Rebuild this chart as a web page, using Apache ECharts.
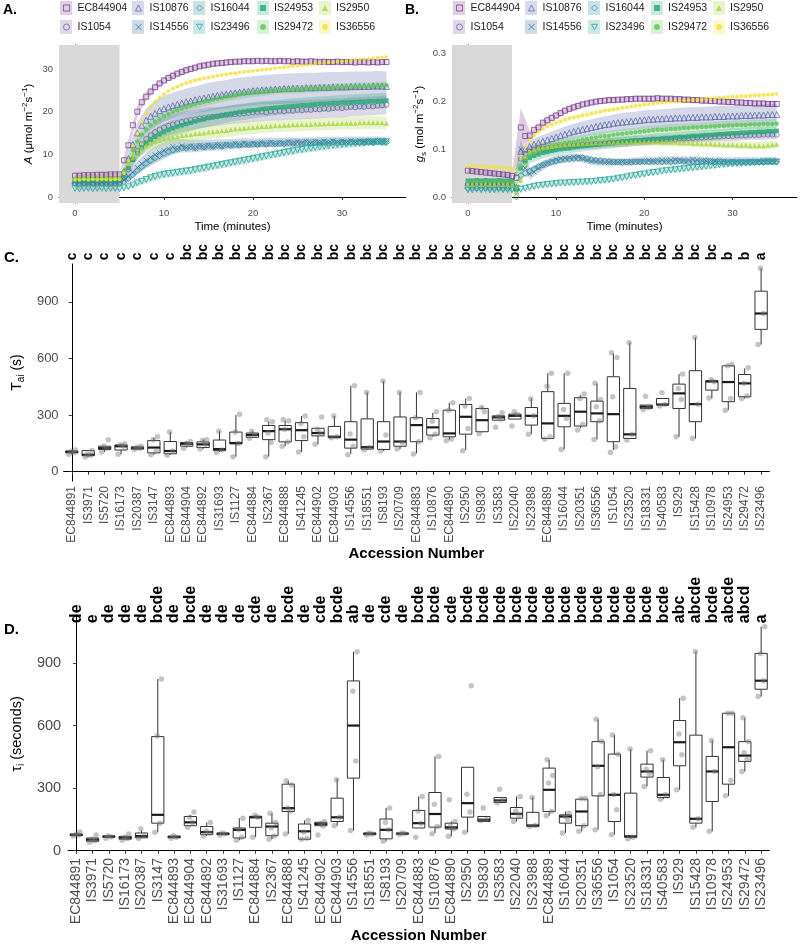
<!DOCTYPE html>
<html><head><meta charset="utf-8">
<script src="https://cdn.jsdelivr.net/npm/echarts@6/dist/echarts.min.js"></script>
<style>html,body{margin:0;padding:0;background:#fff}#c{width:800px;height:945px}</style>
</head><body><div id="c"></div>
<script>
// ===================== DATA =====================
const TS_NAMES = ['EC844904','IS1054','IS10876','IS14556','IS16044','IS23496','IS24953','IS29472','IS2950','IS36556'];
const TIME = [0,0.5,1,1.5,2,2.5,3,3.5,4,4.5,5,5.5,6,6.5,7,7.5,8,8.5,9,9.5,10,10.5,11,11.5,12,12.5,13,13.5,14,14.5,15,15.5,16,16.5,17,17.5,18,18.5,19,19.5,20,20.5,21,21.5,22,22.5,23,23.5,24,24.5,25,25.5,26,26.5,27,27.5,28,28.5,29,29.5,30,30.5,31,31.5,32,32.5,33,33.5,34,34.5,35];
const RIBBON_TIME = [0,1,2,3,4,5,6,7,8,9,10,11,12,13,14,15,16,17,18,19,20,21,22,23,24,25,26,27,28,29,30,31,32,33,34,35];

// Panel A: net assimilation (umol m-2 s-1)
const A_EC844904 = [5.0,5.0,5.1,5.1,5.1,5.2,5.2,5.2,5.3,5.3,5.3, 8.6,12.1,16.8,20.0,22.2,23.5,24.7,25.7,26.6,27.3, 27.9,28.4,28.9,29.3,29.7,30.0,30.3,30.6,30.8,31.0,31.2,31.3,31.4,31.5,31.6,31.7,31.7,31.8,31.8,31.8, 31.9,31.8,31.9,31.8,31.8,31.9,31.8,31.8,31.7,31.8,31.7,31.7,31.8,31.7,31.6,31.7,31.6,31.6,31.7,31.6,31.6,31.6,31.5,31.6,31.6,31.5,31.6,31.5,31.6,31.6];
const A_IS1054 = [3.3,3.2,3.3,3.4,3.3,3.4,3.3,3.4,3.4,3.3,3.4, 4.5,6.5,8.8,10.8,12.4,13.6,14.5,15.2,15.8,16.3, 16.7,17.0,17.3,17.6,17.8,18.0,18.2,18.4,18.5,18.7,18.8,18.9,19.1,19.2,19.3,19.4,19.5,19.6,19.7,19.8, 19.9,20.0,19.8,20.1,20.0,20.2,20.1,20.3,20.2,20.4,20.3,20.5,20.4,20.6,20.5,20.7,20.6,20.8,20.9,20.8,21.0,21.1,21.0,21.2,21.1,21.3,21.2,21.4,21.5,21.6];
const A_IS10876 = [4.0,4.0,4.1,4.0,4.1,4.1,4.0,4.1,4.1,4.0,4.1, 6.0,9.0,12.3,15.0,16.8,18.0,18.9,19.6,20.2,20.7, 21.1,21.4,21.7,22.0,22.3,22.5,22.8,23.0,23.2,23.4,23.6,23.8,24.0,24.1,24.3,24.4,24.6,24.7,24.8,24.9, 25.0,25.1,25.1,25.2,25.3,25.3,25.4,25.4,25.5,25.5,25.5,25.6,25.6,25.6,25.7,25.7,25.7,25.8,25.8,25.8,25.8,25.9,25.9,25.9,25.9,25.9,26.0,26.0,26.0,25.9];
const A_IS14556 = [3.6,3.5,3.6,3.5,3.6,3.5,3.6,3.5,3.6,3.5,3.6, 4.0,4.8,5.8,6.9,7.8,8.6,9.3,9.9,10.4,10.9, 11.3,11.8,11.2,12.0,11.5,11.9,11.4,12.0,11.6,12.1,11.7,12.2,11.8,12.3,12.0,12.5,12.1,12.6,12.2,12.6, 12.3,12.7,12.3,12.8,12.4,12.8,12.5,12.9,12.5,12.9,12.6,13.0,12.6,13.0,12.7,13.1,12.7,13.1,12.8,13.1,12.8,13.2,12.8,13.2,12.9,13.2,12.9,13.2,13.0,13.0];
const A_IS16044 = [3.1,3.0,3.1,3.0,3.1,3.0,3.1,3.1,3.0,3.1,3.1, 3.6,4.3,5.2,6.2,7.1,7.9,8.6,9.2,9.7,10.2, 10.6,11.0,11.3,11.6,11.4,11.8,11.5,11.9,11.7,12.0,11.8,12.1,11.9,12.2,12.0,12.3,12.1,12.4,12.2,12.4, 12.3,12.5,12.3,12.6,12.4,12.6,12.4,12.7,12.5,12.7,12.5,12.8,12.5,12.8,12.6,12.8,12.6,12.9,12.6,12.9,12.7,12.9,12.7,12.9,12.7,13.0,12.7,13.0,12.8,12.8];
const A_IS23496 = [2.0,1.9,2.0,2.0,1.9,2.0,2.0,1.9,2.0,2.0,1.9, 2.1,2.4,2.8,3.3,3.7,4.1,4.5,4.8,5.1,5.3, 5.5,5.6,5.8,5.9,6.1,6.2,6.4,6.6,6.8,7.0,7.2,7.4,7.6,7.8,8.0,8.2,8.4,8.6,8.8,9.0, 9.2,9.4,9.6,9.8,10.0,10.2,10.4,10.6,10.8,11.0,11.1,11.3,11.4,11.6,11.7,11.9,12.0,12.1,12.2,12.3,12.4,12.5,12.6,12.6,12.7,12.8,12.8,12.9,12.9,13.0];
const A_IS24953 = [3.8,3.8,3.8,3.9,3.8,3.9,3.8,3.9,3.9,3.8,3.9, 5.0,6.8,8.7,10.3,11.6,12.6,13.4,14.1,14.7,15.2, 15.7,16.1,16.5,16.8,17.1,17.4,17.7,18.0,18.2,18.5,18.7,18.9,19.1,19.3,19.5,19.7,19.9,20.0,20.2,20.3, 20.4,20.6,20.7,20.8,20.9,21.0,21.1,21.2,21.3,21.4,21.5,21.5,21.6,21.7,21.8,21.8,21.9,22.0,22.0,22.1,22.1,22.2,22.2,22.3,22.3,22.4,22.4,22.5,22.5,22.6];
const A_IS29472 = [4.2,4.2,4.3,4.2,4.3,4.2,4.3,4.3,4.2,4.3,4.3, 6.0,8.5,11.0,13.0,14.6,15.8,16.8,17.6,18.3,18.9, 19.4,19.9,20.3,20.7,21.0,21.4,21.7,22.0,22.3,22.5,22.8,23.0,23.2,23.4,23.6,23.8,24.0,24.1,24.3,24.4, 24.5,24.6,24.7,24.8,24.9,25.0,25.0,25.1,25.2,25.2,25.3,25.3,25.4,25.4,25.5,25.5,25.6,25.6,25.7,25.7,25.8,25.8,25.8,25.9,25.9,26.0,26.0,26.1,26.1,26.2];
const A_IS2950 = [4.5,4.5,4.6,4.5,4.6,4.5,4.6,4.6,4.5,4.6,4.6, 6.0,7.8,9.3,10.5,11.4,12.1,12.6,13.0,13.3,13.6, 13.8,14.0,14.2,14.4,14.5,14.6,14.8,14.9,15.0,15.2,15.3,15.4,15.5,15.6,15.8,15.9,16.0,16.1,16.2,16.3, 16.4,16.5,16.5,16.6,16.7,16.7,16.8,16.8,16.9,16.9,17.0,17.0,17.0,17.1,17.1,17.1,17.2,17.2,17.2,17.3,17.3,17.3,17.3,17.4,17.4,17.4,17.4,17.4,17.4,17.3];
const A_IS36556 = [4.0,4.0,4.1,4.0,4.1,4.0,4.1,4.1,4.0,4.1,4.1, 5.5,8.5,12.0,15.0,17.5,19.5,21.0,22.3,23.3,24.1, 24.8,25.4,25.9,26.3,26.7,27.0,27.3,27.6,27.8,28.0,28.2,28.4,28.6,28.7,28.9,29.0,29.2,29.3,29.4,29.5, 29.7,29.8,29.9,30.0,30.2,30.3,30.4,30.5,30.7,30.8,30.9,31.0,31.1,31.2,31.3,31.4,31.5,31.6,31.7,31.8,31.9,32.0,32.1,32.2,32.3,32.4,32.5,32.6,32.7,32.8];

// Panel A standard error (one value per minute)
const SE_A_EC844904 = [0.3,0.3,0.3,0.3,0.3,0.3, 1.2,1.3,1.0,0.9,0.8,0.8, 0.8,0.7,0.7,0.7,0.7,0.7, 0.6,0.6,0.6,0.6,0.6,0.6, 0.6,0.6,0.6,0.6,0.6,0.6, 0.6,0.6,0.6,0.6,0.6,0.6];
const SE_A_IS1054 = [0.5,0.5,0.5,0.5,0.5,0.5, 1.5,2.0,2.2,2.3,2.3,2.3, 2.3,2.3,2.3,2.3,2.2,2.2, 2.2,2.2,2.2,2.2,2.2,2.2, 2.2,2.2,2.2,2.2,2.2,2.2, 2.2,2.2,2.2,2.2,2.2,2.2];
const SE_A_IS10876 = [0.6,0.6,0.6,0.6,0.6,0.6, 2.0,2.5,2.8,3.0,3.0,3.1, 3.1,3.2,3.2,3.3,3.3,3.3, 3.4,3.4,3.4,3.4,3.5,3.5, 3.5,3.5,3.5,3.5,3.5,3.5, 3.5,3.5,3.5,3.5,3.5,3.5];
const SE_A_IS14556 = [0.5,0.5,0.5,0.5,0.5,0.5, 1.0,1.5,1.8,2.0,2.0,1.8, 1.6,1.5,1.4,1.3,1.3,1.2, 1.2,1.2,1.1,1.1,1.1,1.1, 1.1,1.0,1.0,1.0,1.0,1.0, 1.0,1.0,1.0,1.0,1.0,1.0];
const SE_A_IS16044 = [0.4,0.4,0.4,0.4,0.4,0.4, 0.8,1.0,1.0,1.0,0.9,0.9, 0.8,0.8,0.8,0.8,0.8,0.8, 0.8,0.8,0.8,0.8,0.8,0.8, 0.8,0.8,0.8,0.8,0.8,0.8, 0.8,0.8,0.8,0.8,0.8,0.8];
const SE_A_IS23496 = [0.3,0.3,0.3,0.3,0.3,0.3, 0.5,0.7,0.8,0.9,0.9,0.9, 0.9,0.9,0.9,0.9,0.9,0.9, 0.9,0.9,0.9,0.9,0.9,0.9, 0.9,0.9,0.9,0.9,0.9,0.9, 0.9,0.9,0.9,0.8,0.8,0.8];
const SE_A_IS24953 = [0.4,0.4,0.4,0.4,0.4,0.4, 1.0,1.5,1.8,2.0,2.0,2.0, 2.0,2.0,2.0,2.0,2.0,1.9, 1.9,1.9,1.9,1.9,1.8,1.8, 1.8,1.8,1.8,1.8,1.8,1.8, 1.8,1.8,1.8,1.8,1.8,1.8];
const SE_A_IS29472 = [0.4,0.4,0.4,0.4,0.4,0.4, 1.0,1.2,1.3,1.3,1.3,1.2, 1.2,1.1,1.1,1.0,1.0,1.0, 1.0,1.0,1.0,1.0,0.9,0.9, 0.9,0.9,0.9,0.9,0.9,0.9, 0.9,0.9,0.9,0.9,0.9,0.9];
const SE_A_IS2950 = [0.4,0.4,0.4,0.4,0.4,0.4, 1.0,1.5,1.6,1.7,1.7,1.7, 1.7,1.7,1.7,1.6,1.6,1.6, 1.6,1.6,1.6,1.5,1.5,1.5, 1.5,1.5,1.5,1.5,1.5,1.5, 1.5,1.5,1.5,1.5,1.5,1.5];
const SE_A_IS36556 = [0.3,0.3,0.3,0.3,0.3,0.3, 0.6,0.7,0.7,0.6,0.5,0.5, 0.5,0.5,0.5,0.4,0.4,0.4, 0.4,0.4,0.4,0.4,0.4,0.4, 0.4,0.4,0.4,0.4,0.4,0.4, 0.4,0.4,0.4,0.4,0.4,0.4];

// Panel B: stomatal conductance (mol m-2 s-1)
const B_EC844904 = [0.055,0.054,0.053,0.052,0.051,0.050,0.049,0.048,0.047,0.046,0.044, 0.040,0.145,0.127,0.128,0.140,0.145,0.155,0.160,0.165,0.170, 0.175,0.180,0.184,0.187,0.190,0.193,0.195,0.197,0.199,0.200,0.201,0.202,0.202,0.203,0.203,0.204,0.204,0.205,0.205,0.205, 0.205,0.205,0.206,0.205,0.205,0.205,0.204,0.204,0.203,0.203,0.202,0.202,0.201,0.201,0.200,0.200,0.199,0.199,0.198,0.198,0.197,0.197,0.196,0.196,0.195,0.195,0.195,0.194,0.194,0.194];
const B_IS1054 = [0.028,0.028,0.029,0.028,0.029,0.028,0.028,0.029,0.028,0.028,0.027, 0.018,0.080,0.090,0.095,0.098,0.100,0.101,0.102,0.103,0.104, 0.105,0.106,0.107,0.107,0.108,0.109,0.109,0.110,0.111,0.111,0.112,0.113,0.113,0.114,0.115,0.115,0.116,0.117,0.117,0.118, 0.118,0.119,0.119,0.120,0.120,0.121,0.121,0.122,0.122,0.123,0.123,0.124,0.124,0.125,0.125,0.126,0.126,0.127,0.127,0.127,0.128,0.128,0.128,0.129,0.129,0.129,0.130,0.130,0.130,0.130];
const B_IS10876 = [0.030,0.030,0.031,0.030,0.031,0.030,0.030,0.031,0.030,0.030,0.029, 0.020,0.095,0.100,0.105,0.110,0.113,0.116,0.119,0.122,0.125, 0.128,0.131,0.134,0.137,0.139,0.141,0.143,0.145,0.147,0.149,0.151,0.152,0.154,0.155,0.156,0.157,0.158,0.159,0.160,0.161, 0.162,0.162,0.163,0.163,0.164,0.164,0.165,0.165,0.165,0.166,0.166,0.166,0.167,0.167,0.167,0.168,0.168,0.168,0.169,0.169,0.169,0.170,0.170,0.170,0.171,0.171,0.171,0.172,0.172,0.172];
const B_IS14556 = [0.022,0.022,0.023,0.022,0.023,0.022,0.022,0.023,0.022,0.022,0.021, 0.012,0.100,0.060,0.048,0.052,0.060,0.066,0.071,0.075,0.078, 0.080,0.081,0.082,0.083,0.084,0.080,0.077,0.075,0.074,0.073,0.072,0.073,0.072,0.073,0.074,0.073,0.074,0.075,0.074,0.075, 0.076,0.075,0.076,0.077,0.076,0.077,0.078,0.077,0.076,0.077,0.078,0.077,0.076,0.075,0.076,0.075,0.076,0.075,0.074,0.075,0.074,0.075,0.074,0.075,0.074,0.075,0.075,0.076,0.075,0.076];
const B_IS16044 = [0.018,0.018,0.019,0.018,0.019,0.018,0.018,0.019,0.018,0.018,0.017, 0.000,0.045,0.050,0.054,0.058,0.063,0.067,0.070,0.073,0.075, 0.077,0.078,0.079,0.080,0.081,0.082,0.080,0.078,0.077,0.076,0.075,0.074,0.073,0.073,0.072,0.073,0.072,0.073,0.073,0.074, 0.073,0.074,0.074,0.073,0.074,0.073,0.074,0.075,0.074,0.073,0.074,0.073,0.074,0.075,0.074,0.073,0.074,0.073,0.072,0.073,0.072,0.073,0.072,0.073,0.072,0.073,0.072,0.073,0.073,0.073];
const B_IS23496 = [0.015,0.015,0.016,0.015,0.016,0.015,0.015,0.016,0.015,0.015,0.015, 0.018,0.016,0.018,0.020,0.022,0.024,0.025,0.026,0.027,0.028, 0.029,0.029,0.030,0.030,0.031,0.031,0.032,0.032,0.033,0.034,0.035,0.036,0.037,0.039,0.040,0.042,0.044,0.045,0.047,0.048, 0.050,0.051,0.052,0.054,0.055,0.056,0.057,0.058,0.059,0.060,0.061,0.062,0.063,0.064,0.065,0.066,0.067,0.068,0.069,0.069,0.070,0.070,0.071,0.071,0.072,0.072,0.073,0.073,0.073,0.073];
const B_IS24953 = [0.034,0.034,0.035,0.034,0.035,0.034,0.034,0.035,0.034,0.034,0.033, 0.015,0.060,0.075,0.082,0.086,0.089,0.092,0.094,0.096,0.098, 0.100,0.101,0.102,0.104,0.105,0.106,0.107,0.108,0.109,0.110,0.111,0.112,0.113,0.114,0.115,0.116,0.117,0.118,0.118,0.119, 0.120,0.121,0.121,0.122,0.123,0.123,0.124,0.125,0.125,0.126,0.127,0.127,0.128,0.129,0.129,0.130,0.131,0.131,0.132,0.133,0.133,0.134,0.134,0.135,0.135,0.136,0.136,0.137,0.137,0.138];
const B_IS29472 = [0.032,0.032,0.033,0.032,0.033,0.032,0.032,0.033,0.032,0.032,0.031, 0.020,0.065,0.080,0.088,0.093,0.097,0.100,0.103,0.106,0.108, 0.110,0.112,0.114,0.116,0.118,0.120,0.121,0.123,0.124,0.126,0.127,0.128,0.130,0.131,0.132,0.133,0.134,0.135,0.136,0.137, 0.138,0.139,0.140,0.140,0.141,0.142,0.142,0.143,0.144,0.144,0.145,0.145,0.146,0.146,0.147,0.147,0.148,0.148,0.149,0.149,0.150,0.150,0.150,0.151,0.151,0.151,0.152,0.152,0.152,0.153];
const B_IS2950 = [0.026,0.026,0.027,0.026,0.027,0.026,0.026,0.027,0.026,0.026,0.025, 0.010,0.035,0.085,0.095,0.099,0.102,0.104,0.105,0.106,0.107, 0.108,0.109,0.110,0.110,0.111,0.111,0.112,0.112,0.113,0.113,0.113,0.114,0.114,0.114,0.114,0.115,0.115,0.115,0.115,0.115, 0.115,0.115,0.115,0.114,0.114,0.114,0.114,0.113,0.113,0.113,0.112,0.112,0.111,0.111,0.111,0.110,0.110,0.109,0.109,0.109,0.108,0.108,0.108,0.107,0.107,0.107,0.107,0.108,0.109,0.110];
const B_IS36556 = [0.064,0.065,0.064,0.063,0.064,0.063,0.062,0.062,0.061,0.060,0.058, 0.055,0.085,0.105,0.118,0.128,0.136,0.142,0.147,0.151,0.155, 0.158,0.161,0.164,0.166,0.168,0.170,0.172,0.174,0.176,0.178,0.180,0.181,0.183,0.184,0.186,0.187,0.189,0.190,0.191,0.193, 0.194,0.195,0.196,0.197,0.198,0.199,0.200,0.200,0.201,0.202,0.203,0.203,0.204,0.205,0.205,0.206,0.207,0.207,0.208,0.209,0.209,0.210,0.210,0.211,0.212,0.212,0.213,0.213,0.214,0.215];

// Panel B standard error (one value per minute)
const SE_B_EC844904 = [0.004,0.004,0.004,0.004,0.004,0.005, 0.040,0.010,0.008,0.008,0.007,0.007, 0.007,0.006,0.006,0.006,0.006,0.006, 0.006,0.006,0.006,0.006,0.006,0.006, 0.006,0.006,0.006,0.006,0.006,0.006, 0.006,0.006,0.006,0.006,0.006,0.006];
const SE_B_IS1054 = [0.003,0.003,0.003,0.003,0.003,0.003, 0.012,0.012,0.011,0.011,0.010,0.010, 0.010,0.010,0.010,0.010,0.010,0.010, 0.010,0.010,0.010,0.010,0.010,0.010, 0.010,0.010,0.010,0.010,0.010,0.010, 0.010,0.010,0.010,0.010,0.010,0.010];
const SE_B_IS10876 = [0.003,0.003,0.003,0.003,0.003,0.003, 0.010,0.012,0.013,0.014,0.015,0.016, 0.016,0.017,0.017,0.018,0.018,0.019, 0.019,0.019,0.020,0.020,0.020,0.020, 0.021,0.021,0.021,0.021,0.022,0.022, 0.022,0.022,0.022,0.022,0.022,0.022];
const SE_B_IS14556 = [0.003,0.003,0.003,0.003,0.003,0.003, 0.020,0.012,0.010,0.009,0.009,0.008, 0.008,0.008,0.008,0.008,0.008,0.008, 0.008,0.008,0.008,0.008,0.008,0.008, 0.008,0.008,0.008,0.008,0.008,0.008, 0.008,0.008,0.008,0.008,0.008,0.008];
const SE_B_IS16044 = [0.003,0.003,0.003,0.003,0.003,0.003, 0.008,0.008,0.007,0.007,0.007,0.006, 0.006,0.006,0.006,0.006,0.006,0.006, 0.006,0.006,0.006,0.006,0.006,0.006, 0.006,0.006,0.006,0.006,0.006,0.006, 0.006,0.006,0.006,0.006,0.006,0.006];
const SE_B_IS23496 = [0.003,0.003,0.003,0.003,0.003,0.003, 0.004,0.004,0.005,0.005,0.005,0.005, 0.005,0.005,0.005,0.005,0.005,0.005, 0.005,0.005,0.005,0.005,0.005,0.005, 0.006,0.006,0.006,0.006,0.006,0.006, 0.006,0.006,0.006,0.006,0.006,0.006];
const SE_B_IS24953 = [0.003,0.003,0.003,0.003,0.003,0.003, 0.012,0.012,0.012,0.011,0.011,0.011, 0.011,0.011,0.011,0.011,0.011,0.011, 0.011,0.011,0.011,0.011,0.011,0.011, 0.011,0.011,0.011,0.011,0.011,0.011, 0.011,0.011,0.011,0.011,0.011,0.011];
const SE_B_IS29472 = [0.003,0.003,0.003,0.003,0.003,0.003, 0.010,0.010,0.010,0.010,0.010,0.010, 0.010,0.010,0.010,0.010,0.010,0.010, 0.010,0.010,0.010,0.010,0.010,0.010, 0.010,0.010,0.010,0.010,0.010,0.010, 0.010,0.010,0.010,0.010,0.010,0.010];
const SE_B_IS2950 = [0.003,0.003,0.003,0.003,0.003,0.003, 0.012,0.010,0.009,0.009,0.008,0.008, 0.008,0.008,0.008,0.008,0.008,0.008, 0.008,0.008,0.008,0.008,0.008,0.008, 0.008,0.008,0.008,0.008,0.008,0.008, 0.008,0.008,0.008,0.008,0.008,0.008];
const SE_B_IS36556 = [0.005,0.005,0.005,0.005,0.005,0.005, 0.006,0.006,0.006,0.006,0.006,0.006, 0.005,0.005,0.005,0.005,0.005,0.005, 0.005,0.005,0.005,0.005,0.005,0.005, 0.005,0.005,0.005,0.005,0.005,0.005, 0.005,0.005,0.005,0.005,0.005,0.005];

// Panels C & D: accessions
const ACCESSIONS = ['EC844891','IS3971','IS5720','IS16173','IS20387','IS3147','EC844893','EC844904','EC844892','IS31693','IS1127','EC844884','IS2367','EC844888','IS41245','EC844902','EC844903','IS14556','IS18551','IS8193','IS20709','EC844883','IS10876','EC844890','IS2950','IS9830','IS3583','IS22040','IS23988','EC844889','IS16044','IS20351','IS36556','IS1054','IS23520','IS18331','IS40583','IS929','IS15428','IS10978','IS24953','IS29472','IS23496'];
const Y_TICKS_CD = [0,300,600,900];

// Tai (s): [lower whisker, Q1, median, Q3, upper whisker]
const TAI_BOX = [[92,100,105,110,115],[78,85,90,112,112],[105,118,125,135,135],[92,115,135,142,148],[118,120,125,132,135],[90,100,128,165,180],[90,95,110,160,210],[128,135,148,155,160],[120,128,145,158,170],[105,112,120,168,215],[80,148,152,210,300],[178,182,195,205,215],[80,170,215,245,265],[135,158,225,245,270],[105,165,220,260,295],[145,190,205,230,232],[180,180,185,240,295],[95,125,170,265,455],[115,120,130,280,420],[110,118,160,265,480],[120,135,160,290,420],[97,159,247,286,420],[185,194,235,282,312],[168,185,203,326,365],[115,199,291,356,388],[208,212,273,335,344],[273,273,288,296,300],[279,279,296,305,310],[199,247,296,340,388],[176,176,256,424,521],[118,238,296,362,521],[230,242,318,392,405],[171,265,309,374,468],[115,159,305,503,626],[176,176,198,441,683],[335,335,344,353,353],[353,353,356,388,388],[185,335,415,464,517],[176,265,358,535,711],[388,432,478,482,489],[326,371,475,561,561],[388,397,468,515,547],[674,754,838,956,1077]];
const TAI_POINTS = [[92,100,108,115],[78,88,92,112],[105,125,135,170],[92,135,142,148],[118,125,130,135],[90,110,170,185],[88,110,210],[125,145,150,160],[120,145,165,170],[102,115,215],[80,150,210,305],[178,195,215],[80,155,205,265,275],[135,158,225,270,275],[105,185,255,295],[145,205,225,290],[180,185,295],[90,135,200,455],[115,130,420],[110,195,480],[120,155,420],[94,159,286,420],[180,198,268,318],[164,173,326,365],[111,229,348,388],[203,318,340],[235,279,291,312],[242,305,318],[198,296,385],[173,185,453,521],[118,282,330,521],[221,252,388,411],[171,270,344,383,468],[102,132,397,605,630],[168,199,683],[330,340,400],[348,356,418],[185,383,441,517],[176,358,711],[390,477,489],[326,388,561,568],[388,401,468,551],[674,838,1077]];
const TAI_LETTERS = ['c','c','c','c','c','c','c','bc','bc','bc','bc','bc','bc','bc','bc','bc','bc','bc','bc','bc','bc','bc','bc','bc','bc','bc','bc','bc','bc','bc','bc','bc','bc','bc','bc','bc','bc','bc','bc','bc','b','b','a'];

// tau_i (seconds)
const TAU_BOX = [[70,72,76,80,82],[40,45,53,61,62],[62,64,68,70,70],[50,55,62,69,72],[60,62,70,85,97],[88,132,172,547,823],[60,62,66,70,72],[116,120,136,164,170],[70,77,89,116,135],[75,77,81,85,85],[50,61,100,109,156],[65,112,160,165,170],[55,72,116,132,180],[80,188,204,319,335],[55,55,93,128,145],[116,120,128,136,140],[120,140,160,252,345],[97,348,600,814,954],[75,77,81,85,85],[45,57,100,152,205],[78,80,82,84,85],[109,109,132,193,260],[85,113,176,279,452],[69,104,112,132,140],[88,161,228,400,400],[140,140,148,164,164],[231,231,241,255,255],[140,156,177,207,260],[116,116,121,184,255],[168,188,292,396,436],[85,132,164,172,188],[93,120,188,247,250],[101,263,407,523,630],[77,140,268,463,555],[57,64,69,276,487],[308,353,380,415,479],[247,255,268,351,436],[292,407,520,624,731],[113,132,153,554,955],[93,236,380,452,528],[263,319,496,659,659],[380,428,456,523,638],[739,774,815,946,1074]];
const TAU_POINTS = [[70,75,78,90],[40,48,55,75],[60,66,70],[50,58,65,80],[58,70,105],[88,132,550,823],[60,65,72],[112,135,160,185],[70,85,95,135],[75,80,85],[50,65,100,155],[65,160,170],[55,70,110,135,180],[80,190,205,315,335],[55,60,90,145],[75,120,130,140],[120,160,340],[97,430,765,954],[75,80,85],[45,100,135,205],[78,82,85],[64,130,190,260],[81,116,223,452],[69,104,120,140,244],[88,185,271,791],[145,150,205],[230,245,295],[140,170,190,260],[116,121,255],[168,188,325,360,436],[85,150,165,180],[93,120,250,250],[101,270,403,525,630],[77,196,270,463,555],[57,65,487],[308,370,390,479],[247,268,436],[292,460,560,731],[113,153,955],[93,380,528],[263,338,659,659],[380,440,470,523,638],[739,815,946,1074]];
const TAU_LETTERS = ['de','e','de','de','de','bcde','de','bcde','de','de','de','cde','de','bcde','de','cde','bcde','ab','de','cde','de','bcde','bcde','cde','bcde','bcde','bcde','bcde','bcde','bcde','bcde','bcde','bcde','bcde','bcde','bcde','bcde','abc','abcde','bcde','abcde','abcd','a'];

// ===================== STYLE =====================
const FONT = 'Liberation Sans, Arial, sans-serif';
const MEAN_A = {EC844904:A_EC844904, IS1054:A_IS1054, IS10876:A_IS10876, IS14556:A_IS14556, IS16044:A_IS16044, IS23496:A_IS23496, IS24953:A_IS24953, IS29472:A_IS29472, IS2950:A_IS2950, IS36556:A_IS36556};
const SEA = {EC844904:SE_A_EC844904, IS1054:SE_A_IS1054, IS10876:SE_A_IS10876, IS14556:SE_A_IS14556, IS16044:SE_A_IS16044, IS23496:SE_A_IS23496, IS24953:SE_A_IS24953, IS29472:SE_A_IS29472, IS2950:SE_A_IS2950, IS36556:SE_A_IS36556};
const MEAN_B = {EC844904:B_EC844904, IS1054:B_IS1054, IS10876:B_IS10876, IS14556:B_IS14556, IS16044:B_IS16044, IS23496:B_IS23496, IS24953:B_IS24953, IS29472:B_IS29472, IS2950:B_IS2950, IS36556:B_IS36556};
const SEB = {EC844904:SE_B_EC844904, IS1054:SE_B_IS1054, IS10876:SE_B_IS10876, IS14556:SE_B_IS14556, IS16044:SE_B_IS16044, IS23496:SE_B_IS23496, IS24953:SE_B_IS24953, IS29472:SE_B_IS29472, IS2950:SE_B_IS2950, IS36556:SE_B_IS36556};

const CROSS = 'path://M0,0L10,10M10,0L0,10';
const DOWN_TRI = 'path://M0,0L10,0L5,9Z';
const STYLE = {
  EC844904:{color:'#7b3f8e', symbol:'rect', hollow:true, size:5},
  IS1054:{color:'#7d64a6', symbol:'circle', hollow:true, size:5},
  IS10876:{color:'#5c6aaa', symbol:'triangle', hollow:true, size:6},
  IS14556:{color:'#3e6f9c', symbol:CROSS, hollow:true, size:5},
  IS16044:{color:'#2f8a9e', symbol:'diamond', hollow:true, size:6},
  IS23496:{color:'#2aa79b', symbol:DOWN_TRI, hollow:true, size:6},
  IS24953:{color:'#22a873', symbol:'rect', hollow:false, size:4.5},
  IS29472:{color:'#5ec35c', symbol:'circle', hollow:false, size:4.5},
  IS2950:{color:'#a7d33d', symbol:'triangle', hollow:false, size:5},
  IS36556:{color:'#f1e13c', symbol:'circle', hollow:false, size:3.5}
};
function symStyle(s){ return s.hollow ? {color:'rgba(255,255,255,0)', borderColor:s.color, borderWidth:1} : {color:s.color, borderWidth:0}; }

function pointSeries(name, means, xi, yi){
  const s = STYLE[name];
  return {type:'scatter', name, xAxisIndex:xi, yAxisIndex:yi, symbol:s.symbol, symbolSize:s.size,
    data: TIME.map((t,i)=>[t, means[i]]), itemStyle: symStyle(s), silent:true, animation:false, z:3};
}
function ribbonSeries(name, means, se, xi, yi){
  const data = RIBBON_TIME.map((t,k)=>{ const m = means[TIME.indexOf(t)]; return [t, m-se[k], m+se[k]]; });
  return {type:'custom', name: name+' se', xAxisIndex:xi, yAxisIndex:yi, data, silent:true, animation:false, z:2,
    encode:{x:0, y:[1,2]},
    renderItem:(params, api)=>{
      if(params.dataIndex!==0) return null;
      const up = data.map(d=>api.coord([d[0], d[2]]));
      const lo = data.map(d=>api.coord([d[0], d[1]])).reverse();
      return {type:'polygon', shape:{points: up.concat(lo)}, style:{fill: STYLE[name].color, opacity:0.26}};
    }};
}

const axisLineS = {show:true, lineStyle:{color:'#000', width:1}};
const tickS = (vals, len)=>({show:true, length:len, lineStyle:{color:'#333'}, customValues: vals});

// Legend placement (style)
const LEG_COLS_A = [66,138,199,263,325];
const LEG_COLS_B = [459,531,594,657,719];
const LEG_ROWS = [8,27];
const legends = [];
const legendGraphics = [];
function addLegend(cols){
  TS_NAMES.forEach((name,k)=>{
    const x = cols[Math.floor(k/2)], y = LEG_ROWS[k%2];
    const s = STYLE[name];
    legendGraphics.push({type:'rect', shape:{x:x-6, y:y-7, width:12, height:14}, style:{fill:s.color, opacity:0.25}, z:0, silent:true});
    legends.push({show:true, left:x-3, top:y-7, padding:0, itemWidth:6, itemHeight:6, itemGap:0, selectedMode:false,
      textStyle:{fontSize:10.5, color:'#1a1a1a', fontFamily:FONT, lineHeight:14, padding:[0,0,0,3]},
      data:[{name, icon: s.symbol, itemStyle: symStyle(s)}]});
  });
}
addLegend(LEG_COLS_A); addLegend(LEG_COLS_B);

const JITTER = [-0.18, 0.14, -0.04, 0.22, -0.12];

function boxSeries(stats, xi, yi){
  return {type:'custom', xAxisIndex:xi, yAxisIndex:yi, silent:true, animation:false, z:3,
    data: stats.map((s,i)=>[i].concat(s)), encode:{x:0, y:[1,2,3,4,5]},
    renderItem:(params, api)=>{
      const i = api.value(0);
      const pLo = api.coord([i, api.value(1)]), pQ1 = api.coord([i, api.value(2)]), pMed = api.coord([i, api.value(3)]), pQ3 = api.coord([i, api.value(4)]), pHi = api.coord([i, api.value(5)]);
      const w = api.size([1,0])[0]*0.75;
      const x = pMed[0];
      const ls = {stroke:'#333', lineWidth:1};
      return {type:'group', children:[
        {type:'line', shape:{x1:x,y1:pHi[1],x2:x,y2:pQ3[1]}, style:ls},
        {type:'line', shape:{x1:x,y1:pQ1[1],x2:x,y2:pLo[1]}, style:ls},
        {type:'rect', shape:{x:x-w/2,y:pQ3[1],width:w,height:Math.max(pQ1[1]-pQ3[1],0.5)}, style:{fill:'#fff', stroke:'#333', lineWidth:1}},
        {type:'line', shape:{x1:x-w/2,y1:pMed[1],x2:x+w/2,y2:pMed[1]}, style:{stroke:'#1a1a1a', lineWidth:2.2}}
      ]};
    }};
}
function dotSeries(points, xi, yi){
  const data = [];
  points.forEach((arr,i)=>arr.forEach((v,j)=>data.push([i + JITTER[j%JITTER.length], v])));
  return {type:'scatter', xAxisIndex:xi, yAxisIndex:yi, data, symbolSize:5.5, silent:true, animation:false, z:4,
    itemStyle:{color:'rgba(120,120,120,0.55)'}};
}
function letterSeries(letters, yVal, fontSize, xi, yi){
  return {type:'custom', xAxisIndex:xi, yAxisIndex:yi, silent:true, animation:false, z:5, clip:false,
    data: letters.map((l,i)=>[i, yVal]), encode:{x:0,y:1},
    renderItem:(params, api)=>{
      const p = api.coord([api.value(0), api.value(1)]);
      return {type:'text', x:p[0], y:p[1], rotation:Math.PI/2,
        style:{text:letters[params.dataIndex], fontSize, fontWeight:'bold', fill:'#000', fontFamily:FONT, align:'left', verticalAlign:'middle'}};
    }};
}

const series = [];
// grey dark-period rectangles
series.push({type:'scatter', xAxisIndex:0, yAxisIndex:0, data:[], silent:true, z:1,
  markArea:{silent:true, itemStyle:{color:'#d9d9d9'}, data:[[{xAxis:-1.8},{xAxis:5}]]}});
series.push({type:'scatter', xAxisIndex:1, yAxisIndex:1, data:[], silent:true, z:1,
  markArea:{silent:true, itemStyle:{color:'#d9d9d9'}, data:[[{xAxis:-1.8},{xAxis:5}]]}});
TS_NAMES.forEach(n=>{ series.push(ribbonSeries(n, MEAN_A[n], SEA[n], 0, 0)); series.push(ribbonSeries(n, MEAN_B[n], SEB[n], 1, 1)); });
TS_NAMES.forEach(n=>{ series.push(pointSeries(n, MEAN_A[n], 0, 0)); series.push(pointSeries(n, MEAN_B[n], 1, 1)); });
series.push(boxSeries(TAI_BOX, 2, 2));
series.push(dotSeries(TAI_POINTS, 3, 2));
series.push(letterSeries(TAI_LETTERS, 1120, 14, 2, 2));
series.push(boxSeries(TAU_BOX, 4, 3));
series.push(dotSeries(TAU_POINTS, 5, 3));
series.push(letterSeries(TAU_LETTERS, 1091, 16, 4, 3));

const tsX = (gi, min, max)=>({type:'value', gridIndex:gi, min, max, name:'Time (minutes)', nameLocation:'middle', nameGap:18,
  nameTextStyle:{fontSize:11.5, color:'#000', fontFamily:FONT},
  axisLine:axisLineS, axisTick:tickS([0,10,20,30],3), splitLine:{show:false},
  axisLabel:{customValues:[0,10,20,30], fontSize:9.5, color:'#4d4d4d', margin:5, fontFamily:FONT}});
const catX = (gi, fs, nameFs, nameGap)=>({type:'category', gridIndex:gi, data:ACCESSIONS, name:'Accession Number', nameLocation:'middle', nameGap,
  nameTextStyle:{fontSize:nameFs, fontWeight:'bold', color:'#000', fontFamily:FONT},
  axisLine:axisLineS, axisTick:{show:true, alignWithLabel:true, interval:0, length:3, lineStyle:{color:'#333'}},
  axisLabel:{interval:0, rotate:90, fontSize:fs, color:'#4d4d4d', margin:5, fontFamily:FONT}, splitLine:{show:false}});
const hidX = (gi)=>({type:'value', gridIndex:gi, min:-0.5, max:ACCESSIONS.length-0.5, show:false});

const option = {
  animation:false,
  backgroundColor:'#fff',
  title:[
    {text:'A.', left:3, top:3, padding:0, textStyle:{fontSize:14, fontWeight:'bold', color:'#000', fontFamily:FONT}},
    {text:'B.', left:405, top:3, padding:0, textStyle:{fontSize:14, fontWeight:'bold', color:'#000', fontFamily:FONT}},
    {text:'C.', left:4, top:250, padding:0, textStyle:{fontSize:15, fontWeight:'bold', color:'#000', fontFamily:FONT}},
    {text:'D.', left:4, top:622, padding:0, textStyle:{fontSize:15, fontWeight:'bold', color:'#000', fontFamily:FONT}}
  ],
  legend: legends,
  graphic: legendGraphics,
  grid:[
    {left:59, top:45, width:347, height:158},
    {left:452, top:45, width:345, height:158},
    {left:54.7, top:264, width:714.6, height:217},
    {left:54.7, top:615, width:714.6, height:238}
  ],
  xAxis:[ tsX(0,-1.8,37.2), tsX(1,-1.8,37.3), catX(2,12,15,60), hidX(2), catX(3,14,15,74), hidX(3) ],
  yAxis:[
    {type:'value', gridIndex:0, min:-1.4, max:35.6, name:'{i|A} (μmol m{sup|−2}s{sup|−1})', nameLocation:'middle', nameGap:22,
      nameTextStyle:{fontSize:11.5, color:'#000', fontFamily:FONT, lineHeight:16, rich:{i:{fontStyle:'italic', fontSize:11.5, fontFamily:FONT, lineHeight:16}, sup:{fontSize:8, verticalAlign:'top', lineHeight:16, fontFamily:FONT}}},
      axisLine:axisLineS, axisTick:tickS([0,10,20,30],3), splitLine:{show:false},
      axisLabel:{customValues:[0,10,20,30], fontSize:9.5, color:'#4d4d4d', margin:6, fontFamily:FONT}},
    {type:'value', gridIndex:1, min:-0.0125, max:0.317, name:'{i|g}{sub|s} (mol m{sup|−2}s{sup|−1})', nameLocation:'middle', nameGap:24,
      nameTextStyle:{fontSize:11.5, color:'#000', fontFamily:FONT, lineHeight:16, rich:{i:{fontStyle:'italic', fontSize:11.5, fontFamily:FONT, lineHeight:16}, sub:{fontSize:8, verticalAlign:'bottom', lineHeight:16, fontFamily:FONT}, sup:{fontSize:8, verticalAlign:'top', lineHeight:16, fontFamily:FONT}}},
      axisLine:axisLineS, axisTick:tickS([0,0.1,0.2,0.3],3), splitLine:{show:false},
      axisLabel:{customValues:[0,0.1,0.2,0.3], fontSize:9.5, color:'#4d4d4d', margin:6, fontFamily:FONT, formatter:v=>v.toFixed(1)}},
    {type:'value', gridIndex:2, min:-49, max:1100, name:'T{sub|ai} (s)', nameLocation:'middle', nameGap:37,
      nameTextStyle:{fontSize:14, color:'#000', fontFamily:FONT, lineHeight:18, rich:{sub:{fontSize:10, verticalAlign:'bottom', lineHeight:18, fontFamily:FONT}}},
      axisLine:axisLineS, axisTick:tickS(Y_TICKS_CD,3), splitLine:{show:false},
      axisLabel:{customValues:Y_TICKS_CD, fontSize:13, color:'#4d4d4d', margin:5, fontFamily:FONT}},
    {type:'value', gridIndex:3, min:-11, max:1130, name:'τ{sub|i} (seconds)', nameLocation:'middle', nameGap:34,
      nameTextStyle:{fontSize:14.5, color:'#000', fontFamily:FONT, lineHeight:18, rich:{sub:{fontSize:10, verticalAlign:'bottom', lineHeight:18, fontFamily:FONT}}},
      axisLine:axisLineS, axisTick:tickS(Y_TICKS_CD,3), splitLine:{show:false},
      axisLabel:{customValues:Y_TICKS_CD, fontSize:14.5, color:'#4d4d4d', margin:7, fontFamily:FONT}}
  ],
  series
};
const chart = echarts.init(document.getElementById('c'), null, {renderer:'canvas'});
chart.setOption(option);
</script></body></html>
